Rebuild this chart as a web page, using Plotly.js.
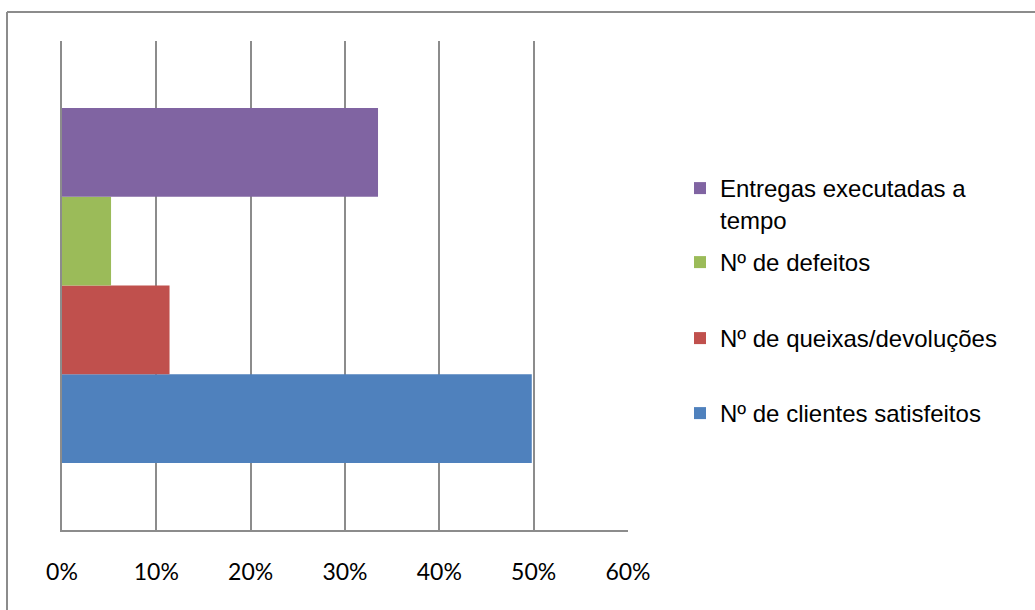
<!DOCTYPE html>
<html>
<head>
<meta charset="utf-8">
<script src="https://cdn.plot.ly/plotly-3.0.1.min.js"></script>
<style>html,body{margin:0;padding:0;background:#fff;}#chart{width:1035px;height:610px;}</style>
</head>
<body>
<div id="chart"></div>
<script>
const categories = ['Indicadores'];
const seriesNames = ['Nº de clientes satisfeitos', 'Nº de queixas/devoluções', 'Nº de defeitos', 'Entregas executadas a<br>tempo'];
const clientesSatisfeitos = [0.498];
const queixasDevolucoes = [0.114];
const defeitos = [0.052];
const entregasATempo = [0.335];
const xTickValues = [0, 0.1, 0.2, 0.3, 0.4, 0.5, 0.6];
const xTickLabels = ['0%', '10%', '20%', '30%', '40%', '50%', '60%'];
const colors = ['#4F81BD', '#C0504D', '#9BBB59', '#8064A2'];

const W = 1035, H = 610;
const m = {l: 62, r: 407, t: 41, b: 80};
const pw = W - m.l - m.r, ph = H - m.t - m.b;
const px = v => (v - m.l) / pw;
const py = v => 1 - (v - m.t) / ph;

const legendIds = ['legend4', 'legend3', 'legend2', 'legend'];
const legendSymbolY = [413, 338, 262, 188];
const legendFontSize = 24;
const symbolOffset = 22;

const seriesValues = [clientesSatisfeitos, queixasDevolucoes, defeitos, entregasATempo];
const data = seriesValues.map((vals, i) => ({
  type: 'bar',
  orientation: 'h',
  y: categories,
  x: vals,
  name: seriesNames[i],
  legend: legendIds[i],
  marker: {color: colors[i], line: {width: 0}},
  hoverinfo: 'x+name'
}));

function legendCfg(symY) {
  return {
    valign: 'top',
    x: px(680),
    xanchor: 'left',
    y: py(symY - symbolOffset),
    yanchor: 'top',
    bgcolor: 'rgba(0,0,0,0)',
    borderwidth: 0,
    font: {family: 'Liberation Sans, Arial, sans-serif', size: legendFontSize, color: '#000'},
    itemclick: false,
    itemdoubleclick: false
  };
}

const layout = {
  width: W, height: H,
  margin: m,
  paper_bgcolor: '#ffffff',
  plot_bgcolor: '#ffffff',
  barmode: 'group',
  bargap: 0.274,
  bargroupgap: 0,
  showlegend: true,
  font: {family: 'Liberation Sans, Arial, sans-serif', color: '#000'},
  xaxis: {
    range: [0, 0.6],
    tickvals: xTickValues,
    ticktext: xTickLabels,
    showgrid: true,
    gridcolor: '#8c8c8c',
    gridwidth: 2,
    zeroline: false,
    showline: true,
    linecolor: '#8c8c8c',
    linewidth: 2,
    ticks: '',
    ticklabelstandoff: 20,
    tickfont: {family: 'Lato, Open Sans, sans-serif', size: 23, color: '#000'},
    fixedrange: true
  },
  yaxis: {
    type: 'category',
    range: [-0.5, 0.5],
    showticklabels: false,
    showgrid: false,
    zeroline: false,
    showline: true,
    linecolor: '#8c8c8c',
    linewidth: 2,
    ticks: '',
    fixedrange: true
  },
  shapes: [
    {type: 'line', xref: 'paper', yref: 'paper', x0: px(7), x1: px(7), y0: py(12), y1: py(610), line: {color: '#8c8c8c', width: 2}},
    {type: 'line', xref: 'paper', yref: 'paper', x0: px(7), x1: px(1035), y0: py(12), y1: py(12), line: {color: '#8c8c8c', width: 2}}
  ]
};
legendIds.forEach((id, i) => { layout[id] = legendCfg(legendSymbolY[i]); });

Plotly.newPlot('chart', data, layout, {displayModeBar: false, staticPlot: true});
</script>
</body>
</html>
